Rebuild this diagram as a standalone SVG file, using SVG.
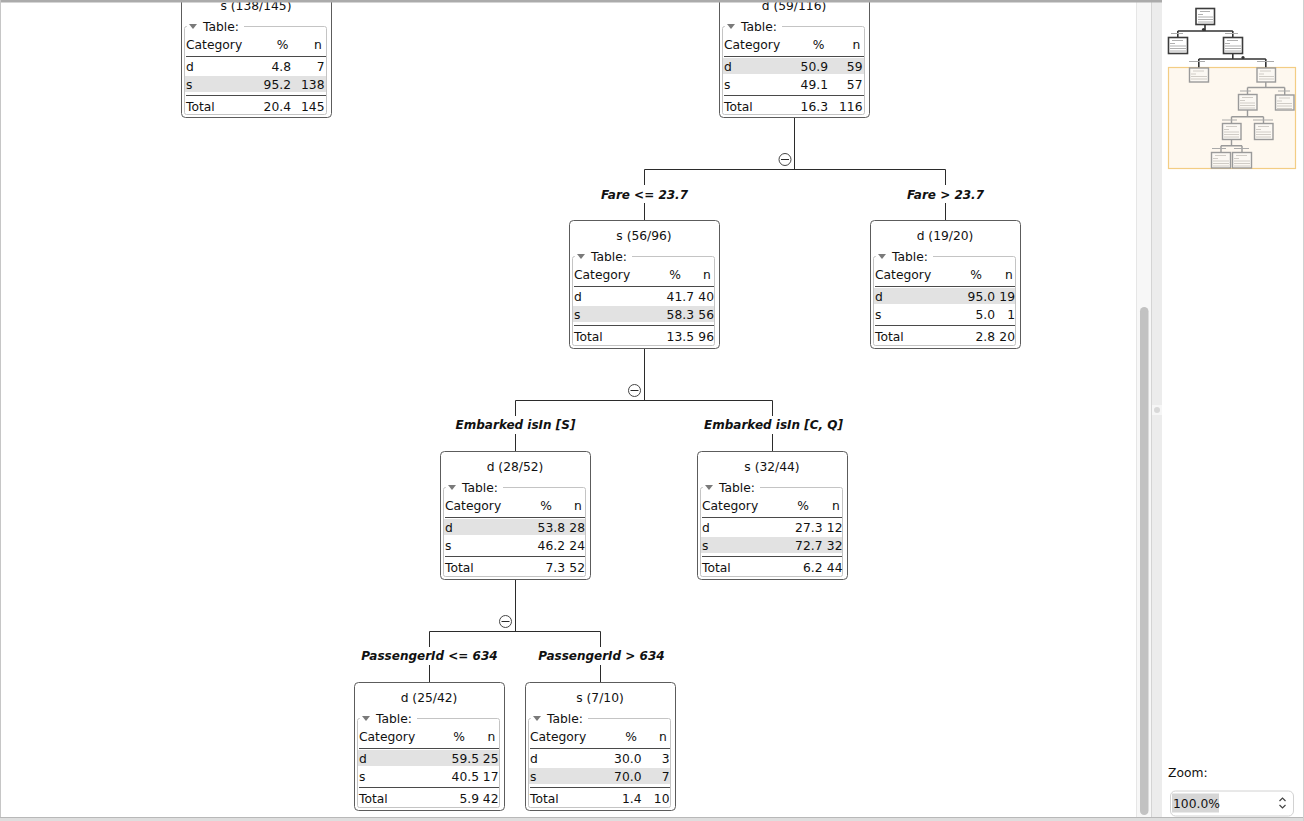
<svg xmlns="http://www.w3.org/2000/svg" width="1304" height="821" viewBox="0 0 1304 821">
  <style>
    text { font-family: "DejaVu Sans", "Liberation Sans", sans-serif; font-size: 12.3px; fill: #111; }
    .mid { text-anchor: middle; }
    .end { text-anchor: end; }
    .cond { font-size: 12px; font-weight: bold; font-style: italic; text-anchor: middle; }
    .box { fill: #fff; stroke: #5c5c5c; stroke-width: 1; }
    .fs { fill: none; stroke: #c4c4c4; stroke-width: 1; }
    .legend { fill: #fff; }
    .tri { fill: #7a7a7a; }
    .rule { stroke: #4a4a4a; stroke-width: 1; }
    .hl { fill: #e2e2e2; }
    .wire { stroke: #2b2b2b; stroke-width: 1; fill: none; }
    .lblbg { fill: #fff; }
    .toggle { fill: #fff; stroke: #444; stroke-width: 1; }
    .mbox { fill: #fff; stroke: #3c3c3c; stroke-width: 1.6; }
    .mbox2 { fill: #fbf8f3; stroke: #9a9a9a; stroke-width: 1.4; }
    .mtxt { stroke: #b0b0b0; stroke-width: 1; }
    .mtxt2 { stroke: #d0ccc6; stroke-width: 1; }
    .mwire { stroke: #333; stroke-width: 1.6; fill: none; }
    .mwire2 { stroke: #9a9a9a; stroke-width: 1.4; fill: none; }
    .mlbl { stroke: #aaa; stroke-width: 1.2; }
  </style>

  <!-- window background -->
  <rect x="0" y="0" width="1304" height="821" fill="#fff"/>

  <!-- tree connectors -->
  <g id="connectors">
    <!-- split below d (59/116) -->
    <path class="wire" d="M794.5,118 V169.5 M644.5,169.5 H945.5 M644.5,169.5 V220 M945.5,169.5 V220"/>
    <circle class="toggle" cx="785" cy="159.5" r="6"/>
    <line class="wire" x1="781" y1="159.5" x2="789" y2="159.5"/>
    <rect class="lblbg" x="598" y="185" width="93" height="18"/>
    <text class="cond" x="644.5" y="198.5">Fare &lt;= 23.7</text>
    <rect class="lblbg" x="903" y="185" width="85" height="18"/>
    <text class="cond" x="945.5" y="198.5">Fare &gt; 23.7</text>

    <!-- split below s (56/96) -->
    <path class="wire" d="M644.5,348 V400.5 M515.5,400.5 H772.5 M515.5,400.5 V451 M772.5,400.5 V451"/>
    <circle class="toggle" cx="634.5" cy="390.5" r="6"/>
    <line class="wire" x1="630.5" y1="390.5" x2="638.5" y2="390.5"/>
    <rect class="lblbg" x="454" y="416" width="123" height="18"/>
    <text class="cond" x="515.5" y="429">Embarked isIn [S]</text>
    <rect class="lblbg" x="702" y="416" width="143" height="18"/>
    <text class="cond" x="773.5" y="429">Embarked isIn [C, Q]</text>

    <!-- split below d (28/52) -->
    <path class="wire" d="M515.5,579 V631.5 M429.5,631.5 H600.5 M429.5,631.5 V682 M600.5,631.5 V682"/>
    <circle class="toggle" cx="505.5" cy="621.5" r="6"/>
    <line class="wire" x1="501.5" y1="621.5" x2="509.5" y2="621.5"/>
    <rect class="lblbg" x="358" y="647" width="143" height="18"/>
    <text class="cond" x="429.5" y="660">PassengerId &lt;= 634</text>
    <rect class="lblbg" x="535" y="647" width="133" height="18"/>
    <text class="cond" x="601.5" y="660">PassengerId &gt; 634</text>
  </g>

  <!-- node s (138/145) -->
  <g id="node-s-138-145" transform="translate(181,-10)">
    <rect class="box" x="0.5" y="0.5" width="150" height="127" rx="4"/>
    <text class="mid" x="75" y="19.5">s (138/145)</text>
    <rect class="fs" x="3.5" y="36.5" width="142" height="88" rx="2"/>
    <rect class="legend" x="6" y="30" width="57" height="13"/>
    <path class="tri" d="M8,34 H16 L12,39 Z"/>
    <text x="22" y="40.5">Table:</text>
    <text x="5" y="58.5">Category</text>
    <text class="mid" x="101.5" y="58.5">%</text>
    <text class="mid" x="137" y="58.5">n</text>
    <line class="rule" x1="5" y1="66.5" x2="145" y2="66.5"/>
    <rect class="hl" x="4" y="86" width="141" height="16"/>
    <text x="5" y="81">d</text>
    <text class="end" x="110" y="81">4.8</text>
    <text class="end" x="143.5" y="81">7</text>
    <text x="5" y="99">s</text>
    <text class="end" x="110" y="99">95.2</text>
    <text class="end" x="143.5" y="99">138</text>
    <line class="rule" x1="5" y1="105.5" x2="145" y2="105.5"/>
    <text x="5" y="121">Total</text>
    <text class="end" x="110" y="121">20.4</text>
    <text class="end" x="143.5" y="121">145</text>
  </g>

  <!-- node d (59/116) -->
  <g id="node-d-59-116" transform="translate(719,-10)">
    <rect class="box" x="0.5" y="0.5" width="150" height="127" rx="4"/>
    <text class="mid" x="75" y="19.5">d (59/116)</text>
    <rect class="fs" x="3.5" y="36.5" width="142" height="88" rx="2"/>
    <rect class="legend" x="6" y="30" width="57" height="13"/>
    <path class="tri" d="M8,34 H16 L12,39 Z"/>
    <text x="22" y="40.5">Table:</text>
    <text x="5" y="58.5">Category</text>
    <text class="mid" x="99.5" y="58.5">%</text>
    <text class="mid" x="137.5" y="58.5">n</text>
    <line class="rule" x1="5" y1="66.5" x2="145" y2="66.5"/>
    <rect class="hl" x="4" y="68" width="141" height="16"/>
    <text x="5" y="81">d</text>
    <text class="end" x="109" y="81">50.9</text>
    <text class="end" x="143.5" y="81">59</text>
    <text x="5" y="99">s</text>
    <text class="end" x="109" y="99">49.1</text>
    <text class="end" x="143.5" y="99">57</text>
    <line class="rule" x1="5" y1="105.5" x2="145" y2="105.5"/>
    <text x="5" y="121">Total</text>
    <text class="end" x="109" y="121">16.3</text>
    <text class="end" x="143.5" y="121">116</text>
  </g>

  <!-- node s (56/96) -->
  <g id="node-s-56-96" transform="translate(569,220)">
    <rect class="box" x="0.5" y="0.5" width="150" height="128" rx="4"/>
    <text class="mid" x="75" y="19.5">s (56/96)</text>
    <rect class="fs" x="3.5" y="36.5" width="142" height="89" rx="2"/>
    <rect class="legend" x="6" y="30" width="57" height="13"/>
    <path class="tri" d="M8,34 H16 L12,39 Z"/>
    <text x="22" y="40.5">Table:</text>
    <text x="5" y="58.5">Category</text>
    <text class="mid" x="106" y="58.5">%</text>
    <text class="mid" x="138" y="58.5">n</text>
    <line class="rule" x1="5" y1="66.5" x2="145" y2="66.5"/>
    <rect class="hl" x="4" y="86" width="141" height="16"/>
    <text x="5" y="81">d</text>
    <text class="end" x="125" y="81">41.7</text>
    <text class="end" x="145" y="81">40</text>
    <text x="5" y="99">s</text>
    <text class="end" x="125" y="99">58.3</text>
    <text class="end" x="145" y="99">56</text>
    <line class="rule" x1="5" y1="105.5" x2="145" y2="105.5"/>
    <text x="5" y="121">Total</text>
    <text class="end" x="125" y="121">13.5</text>
    <text class="end" x="145" y="121">96</text>
  </g>

  <!-- node d (19/20) -->
  <g id="node-d-19-20" transform="translate(870,220)">
    <rect class="box" x="0.5" y="0.5" width="150" height="128" rx="4"/>
    <text class="mid" x="75" y="19.5">d (19/20)</text>
    <rect class="fs" x="3.5" y="36.5" width="142" height="89" rx="2"/>
    <rect class="legend" x="6" y="30" width="57" height="13"/>
    <path class="tri" d="M8,34 H16 L12,39 Z"/>
    <text x="22" y="40.5">Table:</text>
    <text x="5" y="58.5">Category</text>
    <text class="mid" x="106" y="58.5">%</text>
    <text class="mid" x="139" y="58.5">n</text>
    <line class="rule" x1="5" y1="66.5" x2="145" y2="66.5"/>
    <rect class="hl" x="4" y="68" width="141" height="16"/>
    <text x="5" y="81">d</text>
    <text class="end" x="125" y="81">95.0</text>
    <text class="end" x="145" y="81">19</text>
    <text x="5" y="99">s</text>
    <text class="end" x="125" y="99">5.0</text>
    <text class="end" x="145" y="99">1</text>
    <line class="rule" x1="5" y1="105.5" x2="145" y2="105.5"/>
    <text x="5" y="121">Total</text>
    <text class="end" x="125" y="121">2.8</text>
    <text class="end" x="145" y="121">20</text>
  </g>

  <!-- node d (28/52) -->
  <g id="node-d-28-52" transform="translate(440,451)">
    <rect class="box" x="0.5" y="0.5" width="150" height="128" rx="4"/>
    <text class="mid" x="75" y="19.5">d (28/52)</text>
    <rect class="fs" x="3.5" y="36.5" width="142" height="89" rx="2"/>
    <rect class="legend" x="6" y="30" width="57" height="13"/>
    <path class="tri" d="M8,34 H16 L12,39 Z"/>
    <text x="22" y="40.5">Table:</text>
    <text x="5" y="58.5">Category</text>
    <text class="mid" x="106" y="58.5">%</text>
    <text class="mid" x="138" y="58.5">n</text>
    <line class="rule" x1="5" y1="66.5" x2="145" y2="66.5"/>
    <rect class="hl" x="4" y="68" width="141" height="16"/>
    <text x="5" y="81">d</text>
    <text class="end" x="125" y="81">53.8</text>
    <text class="end" x="145" y="81">28</text>
    <text x="5" y="99">s</text>
    <text class="end" x="125" y="99">46.2</text>
    <text class="end" x="145" y="99">24</text>
    <line class="rule" x1="5" y1="105.5" x2="145" y2="105.5"/>
    <text x="5" y="121">Total</text>
    <text class="end" x="125" y="121">7.3</text>
    <text class="end" x="145" y="121">52</text>
  </g>

  <!-- node s (32/44) -->
  <g id="node-s-32-44" transform="translate(697,451)">
    <rect class="box" x="0.5" y="0.5" width="150" height="128" rx="4"/>
    <text class="mid" x="75" y="19.5">s (32/44)</text>
    <rect class="fs" x="3.5" y="36.5" width="142" height="89" rx="2"/>
    <rect class="legend" x="6" y="30" width="57" height="13"/>
    <path class="tri" d="M8,34 H16 L12,39 Z"/>
    <text x="22" y="40.5">Table:</text>
    <text x="5" y="58.5">Category</text>
    <text class="mid" x="106" y="58.5">%</text>
    <text class="mid" x="139" y="58.5">n</text>
    <line class="rule" x1="5" y1="66.5" x2="145" y2="66.5"/>
    <rect class="hl" x="4" y="86" width="141" height="16"/>
    <text x="5" y="81">d</text>
    <text class="end" x="125.5" y="81">27.3</text>
    <text class="end" x="145.5" y="81">12</text>
    <text x="5" y="99">s</text>
    <text class="end" x="125.5" y="99">72.7</text>
    <text class="end" x="145.5" y="99">32</text>
    <line class="rule" x1="5" y1="105.5" x2="145" y2="105.5"/>
    <text x="5" y="121">Total</text>
    <text class="end" x="125.5" y="121">6.2</text>
    <text class="end" x="145.5" y="121">44</text>
  </g>

  <!-- node d (25/42) -->
  <g id="node-d-25-42" transform="translate(354,682)">
    <rect class="box" x="0.5" y="0.5" width="150" height="128" rx="4"/>
    <text class="mid" x="75" y="19.5">d (25/42)</text>
    <rect class="fs" x="3.5" y="36.5" width="142" height="89" rx="2"/>
    <rect class="legend" x="6" y="30" width="57" height="13"/>
    <path class="tri" d="M8,34 H16 L12,39 Z"/>
    <text x="22" y="40.5">Table:</text>
    <text x="5" y="58.5">Category</text>
    <text class="mid" x="105" y="58.5">%</text>
    <text class="mid" x="137.5" y="58.5">n</text>
    <line class="rule" x1="5" y1="66.5" x2="145" y2="66.5"/>
    <rect class="hl" x="4" y="68" width="141" height="16"/>
    <text x="5" y="81">d</text>
    <text class="end" x="125" y="81">59.5</text>
    <text class="end" x="144.5" y="81">25</text>
    <text x="5" y="99">s</text>
    <text class="end" x="125" y="99">40.5</text>
    <text class="end" x="144.5" y="99">17</text>
    <line class="rule" x1="5" y1="105.5" x2="145" y2="105.5"/>
    <text x="5" y="121">Total</text>
    <text class="end" x="125" y="121">5.9</text>
    <text class="end" x="144.5" y="121">42</text>
  </g>

  <!-- node s (7/10) -->
  <g id="node-s-7-10" transform="translate(525,682)">
    <rect class="box" x="0.5" y="0.5" width="150" height="128" rx="4"/>
    <text class="mid" x="75" y="19.5">s (7/10)</text>
    <rect class="fs" x="3.5" y="36.5" width="142" height="89" rx="2"/>
    <rect class="legend" x="6" y="30" width="57" height="13"/>
    <path class="tri" d="M8,34 H16 L12,39 Z"/>
    <text x="22" y="40.5">Table:</text>
    <text x="5" y="58.5">Category</text>
    <text class="mid" x="106" y="58.5">%</text>
    <text class="mid" x="138" y="58.5">n</text>
    <line class="rule" x1="5" y1="66.5" x2="145" y2="66.5"/>
    <rect class="hl" x="4" y="86" width="141" height="16"/>
    <text x="5" y="81">d</text>
    <text class="end" x="116.5" y="81">30.0</text>
    <text class="end" x="144.5" y="81">3</text>
    <text x="5" y="99">s</text>
    <text class="end" x="116.5" y="99">70.0</text>
    <text class="end" x="144.5" y="99">7</text>
    <line class="rule" x1="5" y1="105.5" x2="145" y2="105.5"/>
    <text x="5" y="121">Total</text>
    <text class="end" x="116.5" y="121">1.4</text>
    <text class="end" x="144.5" y="121">10</text>
  </g>

  <!-- vertical scrollbar of the tree view -->
  <g id="scrollbar">
    <rect x="1136" y="2" width="16" height="815" fill="#f7f7f7"/>
    <line x1="1136.5" y1="2" x2="1136.5" y2="817" stroke="#e6e6e6"/>
    <line x1="1151.5" y1="2" x2="1151.5" y2="817" stroke="#d4d4d4"/>
    <rect x="1140" y="307" width="8.5" height="508" rx="4.25" fill="#c2c2c2"/>
  </g>

  <!-- split pane divider -->
  <g id="divider">
    <rect x="1152" y="0" width="10" height="817" fill="#ececec"/>
    <rect x="1152" y="405" width="10" height="10" fill="#f6f6f6"/>
    <circle cx="1157" cy="410" r="3" fill="#d8d8d8"/>
  </g>

  <!-- window frame -->
  <g id="frame">
    <rect x="0" y="0" width="1162" height="2.5" fill="#ababab"/>
    <line x1="0.5" y1="0" x2="0.5" y2="821" stroke="#c6c6c6"/>
    <rect x="0" y="817" width="1304" height="4" fill="#dedede"/>
    <line x1="0" y1="817.5" x2="1304" y2="817.5" stroke="#b8b8b8"/>
    <line x1="1303.5" y1="0" x2="1303.5" y2="821" stroke="#d0d0d0"/>
  </g>

  <!-- overview of the whole tree -->
  <g id="overview">
    <!-- visible area marker -->
    <rect x="1168.5" y="67.5" width="127" height="101" fill="#fef8ef" stroke="#f3cd84" stroke-width="1.2"/>

    <g id="mini-wires">
      <path class="mwire" d="M1205,24 V31 M1177.8,31 H1232.8 M1177.8,31 V37.5 M1232.8,31 V37.5"/>
      <circle cx="1203.5" cy="29.5" r="1.6" fill="#333"/>
      <path class="mwire" d="M1232.8,53 V59 M1198.8,59 H1265.8 M1198.8,59 V67.5 M1265.8,59 V67.5"/>
      <circle cx="1243" cy="57.5" r="1.6" fill="#333"/>
      <path class="mwire2" d="M1265.8,82 V87.5 M1247.5,87.5 H1284.7 M1247.5,87.5 V94.5 M1284.7,87.5 V95"/>
      <path class="mwire2" d="M1247.5,110 V116.7 M1231.5,116.7 H1263.5 M1231.5,116.7 V123.3 M1263.5,116.7 V123.3"/>
      <path class="mwire2" d="M1231.5,139.3 V145.7 M1221,145.7 H1242 M1221,145.7 V152.3 M1242,145.7 V152.3"/>
      <path class="mlbl" d="M1171,33.5 H1183 M1225,33.5 H1238 M1189,61.5 H1205 M1257,61.5 H1274"/>
      <path class="mlbl" d="M1240,91 H1251 M1278,91 H1290 M1222,120 H1237 M1253,120 H1273 M1212,148.5 H1226 M1234,148.5 H1249" stroke="#c8c2ba"/>
    </g>

    <g id="mini-root">
      <rect class="mbox" x="1196" y="8.5" width="18.5" height="16"/>
      <path class="mtxt" d="M1200,11.5 H1210 M1198,14.5 H1203 M1198,17 H1213 M1198,19.5 H1213 M1198,22 H1213"/>
    </g>
    <g id="mini-l2a">
      <rect class="mbox" x="1168.5" y="37.5" width="19" height="16"/>
      <path class="mtxt" d="M1172,40.5 H1183 M1170,43.5 H1175 M1170,46 H1186 M1170,48.5 H1186 M1170,51 H1186"/>
    </g>
    <g id="mini-l2b">
      <rect class="mbox" x="1223.5" y="37.5" width="19" height="16"/>
      <path class="mtxt" d="M1227,40.5 H1238 M1225,43.5 H1230 M1225,46 H1241 M1225,48.5 H1241 M1225,51 H1241"/>
    </g>
    <g id="mini-l3a">
      <rect class="mbox2" x="1189.5" y="68" width="19" height="14"/>
      <path class="mtxt2" d="M1193,71 H1204 M1191,74 H1196 M1191,76.5 H1207 M1191,79 H1207"/>
    </g>
    <g id="mini-l3b">
      <rect class="mbox2" x="1257" y="68" width="18.5" height="14"/>
      <path class="mtxt2" d="M1260,71 H1271 M1259,74 H1264 M1259,76.5 H1274 M1259,79 H1274"/>
    </g>
    <g id="mini-l4a">
      <rect class="mbox2" x="1238.5" y="94.5" width="18.5" height="15.5"/>
      <path class="mtxt2" d="M1242,97.5 H1253 M1240,100.5 H1245 M1240,103 H1255 M1240,105.5 H1255 M1240,108 H1255"/>
    </g>
    <g id="mini-l4b">
      <rect class="mbox2" x="1275.5" y="95" width="18.5" height="15"/>
      <path class="mtxt2" d="M1279,98 H1290 M1277,101 H1282 M1277,103.5 H1292 M1277,106 H1292 M1277,108.5 H1292"/>
    </g>
    <g id="mini-l5a">
      <rect class="mbox2" x="1222.5" y="123.5" width="18.5" height="16"/>
      <path class="mtxt2" d="M1226,126.5 H1237 M1224,129.5 H1229 M1224,132 H1239 M1224,134.5 H1239 M1224,137 H1239"/>
    </g>
    <g id="mini-l5b">
      <rect class="mbox2" x="1254.5" y="123.5" width="18.5" height="16"/>
      <path class="mtxt2" d="M1258,126.5 H1269 M1256,129.5 H1261 M1256,132 H1271 M1256,134.5 H1271 M1256,137 H1271"/>
    </g>
    <g id="mini-l6a">
      <rect class="mbox2" x="1211.5" y="152.5" width="19" height="15.5"/>
      <path class="mtxt2" d="M1215,155.5 H1226 M1213,158.5 H1218 M1213,161 H1229 M1213,163.5 H1229 M1213,166 H1229"/>
    </g>
    <g id="mini-l6b">
      <rect class="mbox2" x="1232.5" y="152.5" width="19" height="15.5"/>
      <path class="mtxt2" d="M1236,155.5 H1247 M1234,158.5 H1239 M1234,161 H1250 M1234,163.5 H1250 M1234,166 H1250"/>
    </g>
  </g>

  <!-- zoom control -->
  <g id="zoom-control">
    <text x="1168" y="777">Zoom:</text>
    <rect x="1170.5" y="791" width="123" height="25" rx="5" fill="#fff" stroke="#d2d2d2"/>
    <rect x="1172" y="793.5" width="47" height="19" fill="#d6d6d6"/>
    <text x="1173" y="807.5">100.0%</text>
    <path d="M1279.5,801 L1282.5,798 L1285.5,801 M1279.5,805 L1282.5,808 L1285.5,805" fill="none" stroke="#444" stroke-width="1.2"/>
  </g>
</svg>
